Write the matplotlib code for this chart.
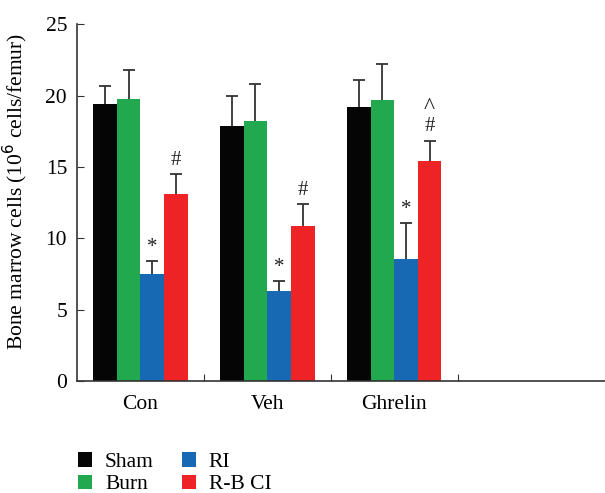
import numpy as np
import matplotlib
matplotlib.use('Agg')
import matplotlib.pyplot as plt

plt.rcParams['font.family'] = ['Liberation Serif', 'DejaVu Serif']

groups = ['Con', 'Veh', 'Ghrelin']
series = ['Sham', 'Burn', 'RI', 'R-B CI']
colors = ['#050505', '#22a84f', '#1769b3', '#ee2326']

# means and upper error bar lengths
sham = [19.4, 17.9, 19.2]
burn = [19.75, 18.2, 19.7]
ri = [7.5, 6.3, 8.55]
rbci = [13.1, 10.85, 15.4]

sham_err = [1.3, 2.1, 1.9]
burn_err = [2.05, 2.6, 2.5]
ri_err = [0.9, 0.7, 2.5]
rbci_err = [1.4, 1.55, 1.45]

# significance marks above the bars: (group, series, text)
marks = [(0, 2, '*'), (1, 2, '*'), (2, 2, '*'),
         (0, 3, '#'), (1, 3, '#'), (2, 3, '#')]

values = [sham, burn, ri, rbci]
errs = [sham_err, burn_err, ri_err, rbci_err]

fig = plt.figure(figsize=(6.05, 4.93), dpi=100)
ax = fig.add_axes([0.127, 0.227, 0.873, 0.724])

x = np.arange(len(groups))
w = 0.186
for i in range(4):
    pos = x + (i - 1.5) * w
    ax.bar(pos, values[i], w, color=colors[i], label=series[i], zorder=2)
    eb = ax.errorbar(pos, values[i], yerr=[np.zeros(3), errs[i]], fmt='none',
                     ecolor='#333333', elinewidth=1.3, capsize=4.5, capthick=1.3, zorder=3)
    # hide the lower caps (sitting on the bar tops)
    eb[1][0].set_visible(False)

for g, s, txt in marks:
    top = values[s][g] + errs[s][g]
    ax.text(x[g] + (s - 1.5) * w, top + 0.3, txt, ha='center', va='bottom',
            fontsize=15, color='#222222')
# extra caret over Ghrelin R-B CI
top = values[3][2] + errs[3][2]
ax.text(x[2] + 1.5 * w, top + 1.55, '^', ha='center', va='bottom',
        fontsize=17, color='#222222')

ax.set_xlim(-0.5, 3.66)
ax.set_ylim(0, 25)
ax.set_yticks([0, 5, 10, 15, 20, 25])
ax.set_xticks([0.5, 1.5, 2.5])
ax.set_xticklabels([])
ax.set_xticks(x, minor=True)
ax.set_xticklabels(groups, minor=True)
ax.tick_params(axis='x', which='minor', length=0, pad=10, labelsize=15.5)
ax.tick_params(axis='x', which='major', direction='in', length=5, color='#333333')
ax.tick_params(axis='y', direction='in', length=5, labelsize=15.5, color='#333333', pad=7)
for sp in ['top', 'right']:
    ax.spines[sp].set_visible(False)
for sp in ['left', 'bottom']:
    ax.spines[sp].set_color('#333333')
    ax.spines[sp].set_linewidth(1.2)

ax.set_ylabel('Bone marrow cells (10$^6$ cells/femur)', fontsize=15.5)
ax.yaxis.set_label_coords(-0.088, 0.53)

handles, labels = ax.get_legend_handles_labels()
fig.legend(handles, labels, ncol=2, loc='upper left', bbox_to_anchor=(0.115, 0.1),
           frameon=False, fontsize=15.5, handlelength=0.65, handleheight=0.65,
           handletextpad=0.6, columnspacing=1.3, labelspacing=0.12, borderaxespad=0)

fig.savefig('out.png', dpi=100)
